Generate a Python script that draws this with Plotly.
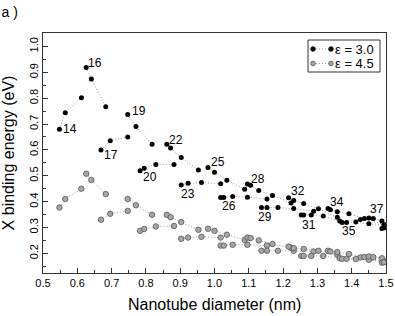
import plotly.graph_objects as go

# (2n+m) family of each nanotube
family = [14, 14, 14,
          16, 16, 16,
          17, 17, 17,
          19, 19, 19,
          20, 20, 20, 20,
          22, 22, 22, 22,
          23, 23, 23, 23,
          25, 25, 25, 25,
          26, 26, 26, 26, 26,
          28, 28, 28, 28, 28,
          29, 29, 29, 29, 29,
          31, 31, 31, 31, 31,
          32, 32, 32, 32, 32, 32,
          34, 34, 34, 34, 34, 34,
          35, 35, 35, 35, 35,
          37, 37, 37,
          38, 38]

# nanotube diameter (nm)
diameter = [0.548, 0.565, 0.612,
            0.626, 0.641, 0.683,
            0.669, 0.696, 0.747,
            0.747, 0.771, 0.818,
            0.783, 0.795, 0.829, 0.882,
            0.861, 0.872, 0.903, 0.953,
            0.903, 0.923, 0.962, 1.018,
            0.981, 1.000, 1.036, 1.088,
            1.018, 1.027, 1.053, 1.096, 1.153,
            1.096, 1.105, 1.129, 1.169, 1.223,
            1.137, 1.153, 1.185, 1.231, 1.289,
            1.216, 1.231, 1.260, 1.303, 1.358,
            1.253, 1.260, 1.282, 1.317, 1.365, 1.425,
            1.331, 1.338, 1.358, 1.392, 1.437, 1.494,
            1.372, 1.385, 1.412, 1.450, 1.500,
            1.450, 1.463, 1.488,
            1.488, 1.494]

# exciton binding energy (eV), eps = 3.0
energy_eps30 = [0.680, 0.744, 0.802,
                0.919, 0.874, 0.767,
                0.600, 0.635, 0.650,
                0.737, 0.690, 0.622,
                0.519, 0.529, 0.544, 0.544,
                0.622, 0.607, 0.571, 0.522,
                0.464, 0.471, 0.474, 0.469,
                0.532, 0.514, 0.483, 0.448,
                0.416, 0.416, 0.420, 0.417, 0.410,
                0.468, 0.463, 0.443, 0.424, 0.395,
                0.377, 0.377, 0.377, 0.373, 0.363,
                0.415, 0.404, 0.393, 0.372, 0.340,
                0.348, 0.348, 0.348, 0.344, 0.325, 0.331,
                0.373, 0.369, 0.361, 0.353, 0.335, 0.311,
                0.319, 0.319, 0.321, 0.314, 0.311,
                0.337, 0.335, 0.325,
                0.296, 0.299]

# exciton binding energy (eV), eps = 4.5
energy_eps45 = [0.377, 0.410, 0.450,
                0.508, 0.484, 0.429,
                0.330, 0.353, 0.364,
                0.410, 0.386, 0.349,
                0.287, 0.294, 0.304, 0.306,
                0.349, 0.340, 0.321, 0.291,
                0.256, 0.261, 0.264, 0.261,
                0.295, 0.287, 0.272, 0.252,
                0.230, 0.230, 0.233, 0.233, 0.230,
                0.261, 0.259, 0.250, 0.236, 0.222,
                0.210, 0.210, 0.210, 0.210, 0.207,
                0.226, 0.220, 0.217, 0.210, 0.195,
                0.190, 0.190, 0.190, 0.190, 0.181, 0.184,
                0.210, 0.207, 0.205, 0.197, 0.186, 0.168,
                0.179, 0.179, 0.178, 0.175, 0.168,
                0.188, 0.185, 0.181,
                0.164, 0.166]

series_names = ["ε = 3.0", "ε = 4.5"]

# family labels and where they are written
label_text = ["14", "16", "17", "19", "20", "22", "23", "25",
              "26", "28", "29", "31", "32", "34", "35", "37"]
label_x = [0.579, 0.652, 0.699, 0.781, 0.813, 0.889, 0.923, 1.011,
           1.041, 1.126, 1.148, 1.275, 1.242, 1.358, 1.393, 1.473]
label_y = [0.680, 0.936, 0.581, 0.751, 0.497, 0.639, 0.430, 0.553,
           0.384, 0.488, 0.340, 0.310, 0.443, 0.400, 0.287, 0.371]


def broken(xs, ys, fam):
    """Insert gaps between families so each family is its own dotted line."""
    bx, by = [], []
    prev = None
    for x, y, f in zip(xs, ys, fam):
        if prev is not None and f != prev:
            bx.append(None)
            by.append(None)
        bx.append(x)
        by.append(y)
        prev = f
    return bx, by


x30, y30 = broken(diameter, energy_eps30, family)
x45, y45 = broken(diameter, energy_eps45, family)

FONT = "Liberation Sans, Arial, Helvetica, sans-serif"
LINE = dict(color="#9a9a9a", width=1, dash="1px,2px")
STYLE = [dict(fill="black", edge="black"), dict(fill="#a6a6a6", edge="#555555")]

fig = go.Figure()
fig.add_trace(go.Scatter(
    x=x30, y=y30, mode="lines+markers", name=series_names[0],
    line=LINE, marker=dict(color="black", size=5, line=dict(width=0)),
    connectgaps=False, showlegend=False,
))
fig.add_trace(go.Scatter(
    x=x45, y=y45, mode="lines+markers", name=series_names[1],
    line=LINE, marker=dict(color="#a6a6a6", size=5.5, line=dict(color="#555555", width=0.8)),
    connectgaps=False, showlegend=False,
))

for t, lx, ly in zip(label_text, label_x, label_y):
    fig.add_annotation(x=lx, y=ly, xref="x", yref="y", text=t, showarrow=False,
                       font=dict(size=12, color="black", family=FONT))

# ---- compact legend box (top right), drawn in paper coordinates ----
PW, PH, L, B = 343.0, 240.0, 43.0, 273.0   # plot size / origin in px


def px(xp):
    return (xp - L) / PW


def py(yp):
    return (B - yp) / PH


fig.add_shape(type="rect", xref="paper", yref="paper",
              x0=px(308), x1=px(380), y0=py(72), y1=py(40),
              line=dict(color="#333333", width=1), fillcolor="white", layer="above")
for i, name in enumerate(series_names):
    row = 49 + i * 14.5
    fig.add_shape(type="line", xref="paper", yref="paper",
                  x0=px(313), x1=px(331), y0=py(row), y1=py(row),
                  line=LINE, layer="above")
    for cx in (313, 331):
        fig.add_shape(type="circle", xref="paper", yref="paper",
                      xsizemode="pixel", ysizemode="pixel",
                      xanchor=px(cx), yanchor=py(row),
                      x0=-2.3, x1=2.3, y0=-2.3, y1=2.3,
                      fillcolor=STYLE[i]["fill"],
                      line=dict(color=STYLE[i]["edge"], width=0.8), layer="above")
    fig.add_annotation(x=px(333), y=py(row), xref="paper", yref="paper",
                       xanchor="left", yanchor="middle", text=name, showarrow=False,
                       font=dict(size=13, family=FONT, color="black"))

# x-axis title, placed where the reference has it
fig.add_annotation(x=0.5, y=py(304), xref="paper", yref="paper",
                   xanchor="center", yanchor="middle", showarrow=False,
                   text="Nanotube diameter (nm)",
                   font=dict(size=16, family=FONT, color="black"))

fig.update_layout(
    template="none",
    width=395, height=316,
    margin=dict(l=43, r=9, t=33, b=43, autoexpand=False),
    paper_bgcolor="white", plot_bgcolor="white",
    font=dict(family=FONT, color="black"),
    title=dict(text="a )", x=0.004, xanchor="left", xref="container",
               y=0.962, yanchor="middle", yref="container",
               font=dict(size=14, family=FONT, color="black")),
    showlegend=False,
)

fig.update_xaxes(
    automargin=False,
    range=[0.5, 1.5], dtick=0.1, tick0=0.5, tickformat=".1f",
    ticks="inside", ticklen=5, tickcolor="#333333", tickwidth=1,
    minor=dict(ticks="inside", ticklen=3, dtick=0.05, tickcolor="#333333", tickwidth=1),
    showline=True, linecolor="#333333", linewidth=1, mirror=True,
    showgrid=False, zeroline=False,
    tickfont=dict(size=11, family=FONT),
)
fig.update_yaxes(
    automargin=False,
    range=[0.124, 1.052], dtick=0.1, tick0=0.2, tickformat=".1f",
    ticks="inside", ticklen=5, tickcolor="#333333", tickwidth=1, tickangle=-90,
    minor=dict(ticks="inside", ticklen=3, dtick=0.05, tickcolor="#333333", tickwidth=1),
    showline=True, linecolor="#333333", linewidth=1, mirror=True,
    showgrid=False, zeroline=False,
    tickfont=dict(size=11, family=FONT),
    title=dict(text="X binding energy (eV)", font=dict(size=16, family=FONT)),
)

fig.write_html("out.html", config={"displayModeBar": False},
               post_script="document.body.style.margin='0';document.body.style.padding='0';")
